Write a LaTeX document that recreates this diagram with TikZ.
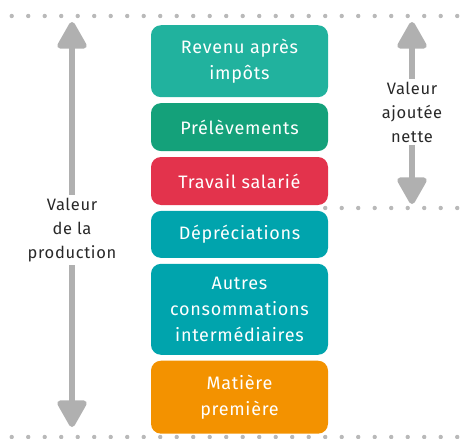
\documentclass[tikz,border=0pt]{standalone}
\usepackage{fontspec}
\setmainfont{Fira Sans}[LetterSpace=4]
\usetikzlibrary{positioning, arrows.meta}
\definecolor{revenuteal}{RGB}{33,178,158}
\definecolor{prelevgreen}{RGB}{20,161,122}
\definecolor{travailred}{RGB}{227,51,76}
\definecolor{consocyan}{RGB}{0,164,173}
\definecolor{matiereorange}{RGB}{243,146,0}
\definecolor{dotgray}{RGB}{185,185,185}
\definecolor{arrowgray}{RGB}{176,176,176}
\definecolor{labelgray}{RGB}{40,40,40}

\tikzset{
  poste/.style={rounded corners=10pt, minimum width=177pt, align=center,
    text=white, inner sep=0pt, font=\fontsize{18}{26}\selectfont},
  sidelabel/.style={align=center, text=labelgray, inner sep=3pt,
    font=\fontsize{16.5}{24}\selectfont},
  bigarrow/.style={draw=arrowgray, line width=6pt,
    -{Triangle[width=32pt,length=30pt,round]}}
}

\begin{document}
\begin{tikzpicture}[x=1pt,y=-1pt]
    \useasboundingbox (0,0) rectangle (467,439);

    % Lignes pointillées
    \foreach \i in {0,...,27} {
        \fill[dotgray] (11.7+16.5*\i,16) circle (2.2pt);
        \fill[dotgray] (11.7+16.5*\i,437) circle (2.2pt);
    }
    \foreach \i in {19,...,27}
        \fill[dotgray] (11.7+16.5*\i,208) circle (2.2pt);

    % Postes
    \node[poste, fill=revenuteal, minimum height=72pt, anchor=north] (revenu)
        at (239.5,25) {Revenu après\\impôts};
    \node[poste, fill=prelevgreen, minimum height=48pt, below=5.5pt of revenu] (prelev)
        {Prélèvements};
    \node[poste, fill=travailred, minimum height=48pt, below=5.5pt of prelev] (travail)
        {Travail salarié};
    \node[poste, fill=consocyan, minimum height=47pt, below=5.5pt of travail] (deprec)
        {Dépréciations};
    \node[poste, fill=consocyan, minimum height=91pt, below=5.5pt of deprec] (autres)
        {Autres\\consommations\\intermédiaires};
    \node[poste, fill=matiereorange, minimum height=73pt, below=5.5pt of autres] (matiere)
        {Matière\\première};

    % Valeur de la production
    \node[sidelabel] (production) at (72,230) {Valeur\\de la\\production};
    \coordinate (prodhaut) at (72,22);
    \coordinate (prodbas) at (72,427);
    \draw[bigarrow] (production.north) -- (prodhaut);
    \draw[bigarrow] (production.south) -- (prodbas);

    % Valeur ajoutée nette
    \node[sidelabel] (ajoutee) at (412,112) {Valeur\\ajoutée\\nette};
    \coordinate (ajouthaut) at (412,22);
    \coordinate (ajoutbas) at (412,204);
    \draw[bigarrow] (ajoutee.north) -- (ajouthaut);
    \draw[bigarrow] (ajoutee.south) -- (ajoutbas);
\end{tikzpicture}
\end{document}
